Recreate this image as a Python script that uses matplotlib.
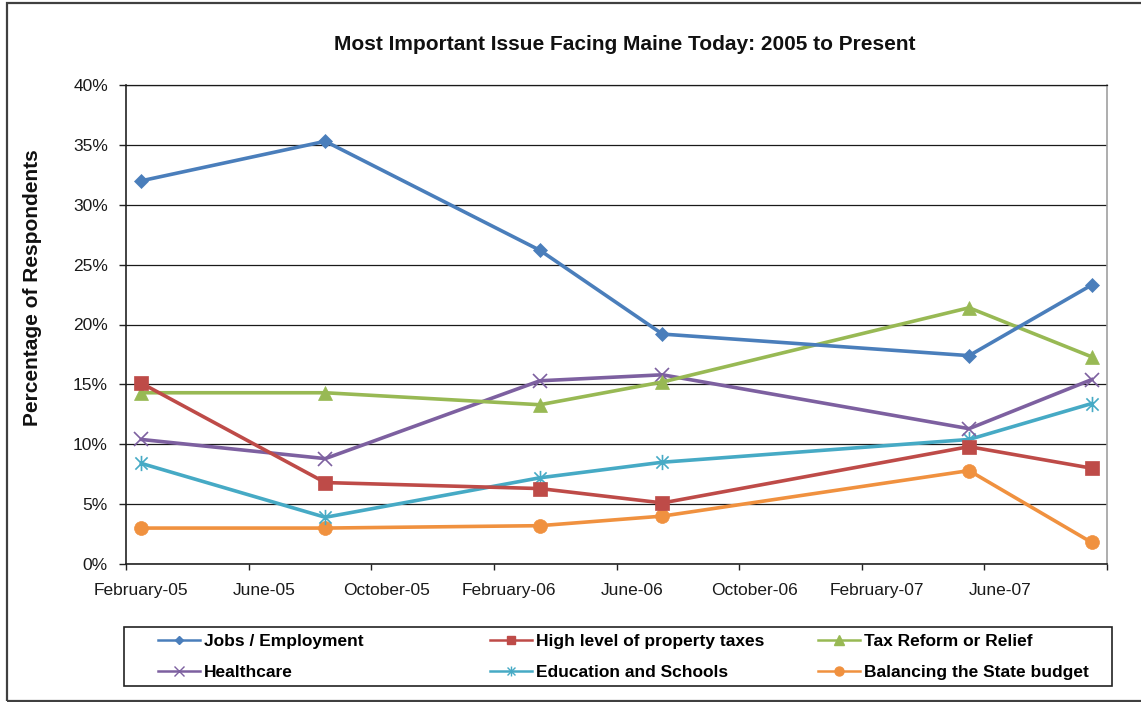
import matplotlib
matplotlib.use('Agg')
import matplotlib.pyplot as plt
import matplotlib.patches as patches
from matplotlib.lines import Line2D
from matplotlib.path import Path

plt.rcParams['font.family'] = ['Liberation Sans', 'DejaVu Sans']

# survey waves (year-month) and share of respondents, in percent
survey_dates = ['2005-02', '2005-08', '2006-03', '2006-07', '2007-05', '2007-09']
jobs = [32.0, 35.3, 26.2, 19.2, 17.4, 23.3]
property_taxes = [15.1, 6.8, 6.3, 5.1, 9.8, 8.0]
tax_reform = [14.3, 14.3, 13.3, 15.2, 21.4, 17.3]
healthcare = [10.4, 8.8, 15.3, 15.8, 11.3, 15.4]
education = [8.4, 3.9, 7.2, 8.5, 10.4, 13.4]
state_budget = [3.0, 3.0, 3.2, 4.0, 7.8, 1.8]

series_names = ['Jobs / Employment', 'High level of property taxes', 'Tax Reform or Relief',
                'Healthcare', 'Education and Schools', 'Balancing the State budget']
series_values = [jobs, property_taxes, tax_reform, healthcare, education, state_budget]

tick_labels = ['February-05', 'June-05', 'October-05', 'February-06',
               'June-06', 'October-06', 'February-07', 'June-07']
y_ticks = [0, 5, 10, 15, 20, 25, 30, 35, 40]

# excel 2007 palette
colors = ['#4A7EBB', '#BE4B48', '#98B954', '#7D60A0', '#46AAC5', '#F0913F']

# excel style asterisk: an x with a vertical bar
asterisk = Path([(0, -1), (0, 1), (-0.8, -0.8), (0.8, 0.8), (-0.8, 0.8), (0.8, -0.8)],
                [Path.MOVETO, Path.LINETO, Path.MOVETO, Path.LINETO, Path.MOVETO, Path.LINETO])
markers = ['D', 's', '^', 'x', asterisk, 'o']
marker_sizes = [7, 9.5, 10.5, 10.5, 11, 10]


def month_slot(date):
    # date axis with a base unit of one month, starting at February 2005
    year, month = date.split('-')
    return (int(year) - 2005) * 12 + int(month) - 2 + 0.5


x = [month_slot(d) for d in survey_dates]

fig = plt.figure(figsize=(11.41, 7.02), dpi=100)
W, H = 1141.0, 702.0

# chart area border
fig.patches.append(patches.Rectangle((7 / W, 1 - 701 / H), 1.2, (701 - 3) / H,
                                     transform=fig.transFigure, fill=False,
                                     edgecolor='#404040', linewidth=1.6))

ax = fig.add_axes([126 / W, 1 - 564 / H, (1107 - 126) / W, (564 - 85) / H])

for i in range(len(series_names)):
    line_marker = markers[i]
    open_marker = line_marker in ('x',) or isinstance(line_marker, Path)
    ax.plot(x, series_values[i], color=colors[i], linewidth=2.6,
            marker=line_marker, markersize=marker_sizes[i],
            markerfacecolor=colors[i], markeredgecolor=colors[i],
            markeredgewidth=1.2 if open_marker else 0.5,
            zorder=3 + (len(series_names) - i) * 0.01, clip_on=False)

ax.set_xlim(0, 32)
ax.set_ylim(0, 40)

ax.set_xticks(range(0, 33, 4))
ax.set_xticklabels([])
ax.set_xticks([t * 4 + 0.5 for t in range(len(tick_labels))], minor=True)
ax.set_xticklabels(tick_labels, minor=True, fontsize=12.5, color='#1a1a1a')
ax.tick_params(axis='x', which='major', direction='out', length=4, width=1, color='#222222')
ax.tick_params(axis='x', which='minor', length=0, pad=14)

ax.set_yticks(y_ticks)
ax.set_yticklabels(['{}%'.format(v) for v in y_ticks], fontsize=12.5, color='#1a1a1a')
ax.tick_params(axis='y', direction='out', length=5, width=1, color='#222222', pad=8)

ax.grid(axis='y', color='#1a1a1a', linewidth=0.9)
ax.set_axisbelow(True)

for side in ['left', 'bottom']:
    ax.spines[side].set_color('#222222')
    ax.spines[side].set_linewidth(1.2)
ax.spines['top'].set_color('#1a1a1a')
ax.spines['top'].set_linewidth(0.9)
ax.spines['right'].set_color('#A0A0A0')
ax.spines['right'].set_linewidth(1.2)

fig.text(625 / W, 1 - 44 / H, 'Most Important Issue Facing Maine Today: 2005 to Present',
         ha='center', va='center', fontsize=15, fontweight='bold', color='#111111')
fig.text(33 / W, 1 - 288 / H, 'Percentage of Respondents', rotation=90,
         ha='center', va='center', fontsize=15, fontweight='bold', color='#111111')

# legend: box with three evenly spaced columns, filled row by row
fig.patches.append(patches.Rectangle((124 / W, 1 - 686 / H), (1112 - 124) / W, (686 - 627) / H,
                                     transform=fig.transFigure, fill=False,
                                     edgecolor='#222222', linewidth=1.2))
column_x = [158, 490, 818]
for c in range(3):
    handles = []
    for i in (c, c + 3):
        handles.append(Line2D([], [], color=colors[i], linewidth=1.8, marker=markers[i],
                              markersize=marker_sizes[i] * 0.65,
                              markerfacecolor=colors[i], markeredgecolor=colors[i],
                              markeredgewidth=1.0))
    fig.legend(handles, [series_names[c], series_names[c + 3]],
               loc='upper left', bbox_to_anchor=(column_x[c] / W, 1 - 634 / H),
               frameon=False, borderpad=0, borderaxespad=0,
               handlelength=2.4, handletextpad=0.25, labelspacing=0.9,
               prop={'size': 12.5, 'weight': 'bold'})

fig.savefig('out.png', dpi=100)
